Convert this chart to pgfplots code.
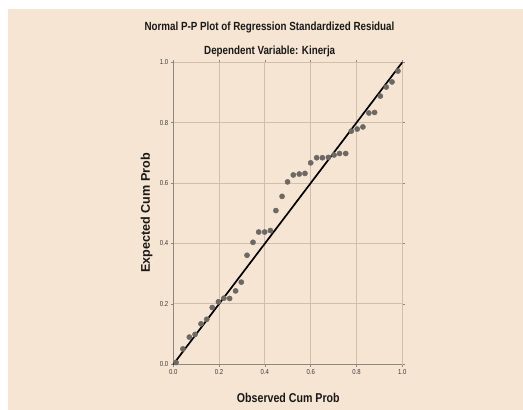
\documentclass[border=0pt]{standalone}
\usepackage{pgfplots}
\pgfplotsset{compat=1.18}
\usepackage{fontspec}
\setmainfont{Liberation Sans}[FakeStretch=0.83]
\newfontfamily\ylabfont{Liberation Sans}
\definecolor{bg}{HTML}{F5E5D2}
\definecolor{gridc}{HTML}{CFC0AE}
\definecolor{axc}{HTML}{8E8780}
\definecolor{ptc}{HTML}{6C6864}
\definecolor{tickc}{HTML}{3A3A3A}
\begin{document}
\begin{tikzpicture}
\useasboundingbox[fill=white] (-173.3pt,-45.7pt) rectangle (349.7pt,364.3pt);
\fill[bg] (-165.3pt,-45.7pt) rectangle (349.7pt,355.3pt);
\node[font=\bfseries\fontsize{11.8}{14}\selectfont, text=black!90] at (96.2pt,337pt) {Normal P-P Plot of Regression Standardized Residual};
\node[font=\bfseries\fontsize{11.8}{14}\selectfont, text=black!90] at (96.4pt,312.6pt) {Dependent Variable: Kinerja};
\node[font=\ylabfont\bfseries\fontsize{12.6}{14}\selectfont, rotate=90, text=black!90] at (-26.6pt,151.3pt) {Expected Cum Prob};
\node[font=\bfseries\fontsize{12.8}{14}\selectfont, text=black!90] at (115pt,-33.7pt) {Observed Cum Prob};
\begin{axis}[
  at={(0pt,0pt)}, anchor=south west,
  scale only axis, width=229pt, height=302pt,
  xmin=0, xmax=1, ymin=0, ymax=1,
  xtick={0,0.2,0.4,0.6,0.8,1}, ytick={0,0.2,0.4,0.6,0.8,1},
  /pgf/number format/assume math mode=true,
  /pgf/number format/fixed,
  /pgf/number format/fixed zerofill,
  /pgf/number format/precision=1,
  tick label style={font=\fontsize{7.2}{8}\selectfont, text=tickc},
  xticklabel style={yshift=1pt},
  yticklabel style={xshift=1pt},
  grid=major, grid style={gridc, line width=0.8pt},
  axis line style={gridc, line width=0.8pt},
  tick align=outside, major tick length=2.5pt,
  tick style={axc, line width=0.7pt},
  clip=false,
]
\draw[axc, line width=1pt] (rel axis cs:0,1) -- (rel axis cs:0,0) -- (rel axis cs:1,0);
\addplot[only marks, mark=*, mark size=2.6pt, mark options={fill=ptc, draw=ptc}] coordinates {
(0.012,0.006) (0.042,0.051) (0.070,0.090) (0.095,0.099) (0.121,0.134)
(0.146,0.149) (0.170,0.188) (0.197,0.207) (0.221,0.219) (0.246,0.218)
(0.272,0.243) (0.297,0.272) (0.322,0.361) (0.348,0.404) (0.373,0.438)
(0.399,0.438) (0.424,0.443) (0.448,0.509) (0.475,0.556) (0.499,0.604)
(0.524,0.627) (0.550,0.630) (0.575,0.632) (0.600,0.667) (0.626,0.684)
(0.651,0.684) (0.677,0.685) (0.702,0.693) (0.726,0.698) (0.753,0.698)
(0.777,0.772) (0.803,0.779) (0.828,0.786) (0.854,0.832) (0.879,0.834)
(0.904,0.888) (0.930,0.918) (0.955,0.935) (0.981,0.971)
};
\addplot[black, line width=1.7pt] coordinates {(0,0) (1,1)};
\end{axis}
\end{tikzpicture}
\end{document}
